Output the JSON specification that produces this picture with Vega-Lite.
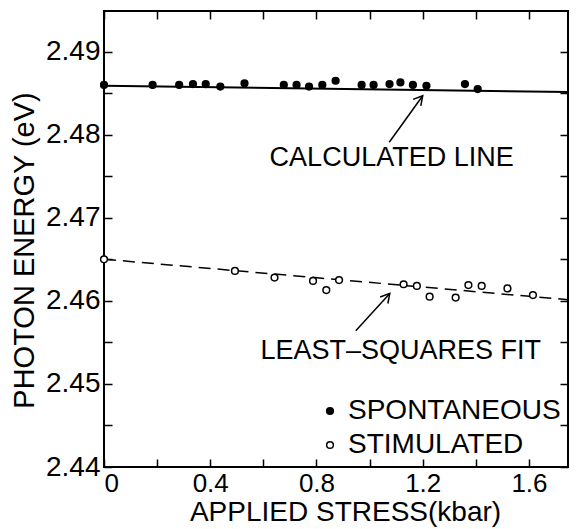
{
  "$schema": "https://vega.github.io/schema/vega-lite/v6.json",
  "width": 464,
  "height": 456,
  "autosize": "none",
  "padding": {"left": 104, "top": 11, "right": 15, "bottom": 62},
  "background": "white",
  "config": {
    "view": {"stroke": "black", "strokeWidth": 2},
    "font": "Liberation Sans",
    "axis": {"grid": false, "domain": false, "tickColor": "black", "tickWidth": 1.5, "labelColor": "black", "titleColor": "black"}
  },
  "datasets": {
    "points": [
      {"series": "SPONTANEOUS", "x": 0.0, "y": 2.4860},
      {"series": "SPONTANEOUS", "x": 0.183, "y": 2.4860},
      {"series": "SPONTANEOUS", "x": 0.283, "y": 2.4860},
      {"series": "SPONTANEOUS", "x": 0.335, "y": 2.4861},
      {"series": "SPONTANEOUS", "x": 0.383, "y": 2.4861},
      {"series": "SPONTANEOUS", "x": 0.438, "y": 2.4858},
      {"series": "SPONTANEOUS", "x": 0.529, "y": 2.4862},
      {"series": "SPONTANEOUS", "x": 0.677, "y": 2.4860},
      {"series": "SPONTANEOUS", "x": 0.725, "y": 2.4860},
      {"series": "SPONTANEOUS", "x": 0.772, "y": 2.4858},
      {"series": "SPONTANEOUS", "x": 0.822, "y": 2.4860},
      {"series": "SPONTANEOUS", "x": 0.872, "y": 2.4865},
      {"series": "SPONTANEOUS", "x": 0.970, "y": 2.4860},
      {"series": "SPONTANEOUS", "x": 1.015, "y": 2.4860},
      {"series": "SPONTANEOUS", "x": 1.075, "y": 2.4861},
      {"series": "SPONTANEOUS", "x": 1.116, "y": 2.4863},
      {"series": "SPONTANEOUS", "x": 1.163, "y": 2.4860},
      {"series": "SPONTANEOUS", "x": 1.214, "y": 2.4859},
      {"series": "SPONTANEOUS", "x": 1.359, "y": 2.4861},
      {"series": "SPONTANEOUS", "x": 1.407, "y": 2.4855},
      {"series": "STIMULATED", "x": 0.0, "y": 2.4650},
      {"series": "STIMULATED", "x": 0.493, "y": 2.4636},
      {"series": "STIMULATED", "x": 0.642, "y": 2.4628},
      {"series": "STIMULATED", "x": 0.787, "y": 2.4624},
      {"series": "STIMULATED", "x": 0.837, "y": 2.4613},
      {"series": "STIMULATED", "x": 0.885, "y": 2.4625},
      {"series": "STIMULATED", "x": 1.128, "y": 2.4620},
      {"series": "STIMULATED", "x": 1.178, "y": 2.4618},
      {"series": "STIMULATED", "x": 1.226, "y": 2.4605},
      {"series": "STIMULATED", "x": 1.324, "y": 2.4604},
      {"series": "STIMULATED", "x": 1.372, "y": 2.4619},
      {"series": "STIMULATED", "x": 1.422, "y": 2.4618},
      {"series": "STIMULATED", "x": 1.519, "y": 2.4615},
      {"series": "STIMULATED", "x": 1.615, "y": 2.4607}
    ],
    "calcline": [
      {"x": 0.0, "y": 2.48590},
      {"x": 1.747, "y": 2.48515}
    ],
    "fitline": [
      {"x": 0.0, "y": 2.46502},
      {"x": 1.747, "y": 2.46014}
    ],
    "labels": [
      {"x": 1.083, "y": 2.47719, "text": "CALCULATED LINE"},
      {"x": 1.117, "y": 2.45394, "text": "LEAST–SQUARES FIT"}
    ],
    "arrows": [
      {"x": 1.074, "y": 2.4791, "x2": 1.200, "y2": 2.4847},
      {"x": 0.948, "y": 2.4564, "x2": 1.076, "y2": 2.4609}
    ]
  },
  "layer": [
    {
      "encoding": {
        "x": {
          "field": "x", "type": "quantitative",
          "scale": {"domain": [0, 1.747], "nice": false, "zero": false},
          "axis": {
            "orient": "bottom",
            "offset": -8,
            "values": [0, 0.2, 0.4, 0.6, 0.8, 1.0, 1.2, 1.4, 1.6],
            "format": ".1~f",
            "labelExpr": "abs(datum.value*2.5 - round(datum.value*2.5)) < 0.01 ? datum.label : ''",
            "tickSize": 8,
            "labelFontSize": 26,
            "labelPadding": 3,
            "labelOverlap": false,
            "labelBound": false,
            "title": "APPLIED STRESS(kbar)",
            "titleFontSize": 28,
            "titleFontWeight": "normal",
            "titlePadding": 2,
            "titleX": 241
          }
        },
        "y": {
          "field": "y", "type": "quantitative",
          "scale": {"domain": [2.44, 2.4949], "nice": false, "zero": false},
          "axis": {
            "orient": "left",
            "offset": -8,
            "values": [2.44, 2.445, 2.45, 2.455, 2.46, 2.465, 2.47, 2.475, 2.48, 2.485, 2.49],
            "labelExpr": "abs(datum.value*100 - round(datum.value*100)) < 0.01 ? format(datum.value, '.2f') : ''",
            "tickSize": 8,
            "labelFontSize": 28,
            "labelPadding": 4,
            "labelOverlap": false,
            "labelBound": false,
            "title": "PHOTON ENERGY (eV)",
            "titleFontSize": 29,
            "titleFontWeight": "normal",
            "titlePadding": 6,
            "titleY": 239
          }
        }
      },
      "layer": [
        {
          "data": {"name": "calcline"},
          "mark": {"type": "line", "color": "black", "strokeWidth": 2}
        },
        {
          "data": {"name": "fitline"},
          "mark": {"type": "line", "color": "black", "strokeWidth": 1.5, "strokeDash": [12, 7]}
        },
        {
          "data": {"name": "arrows"},
          "mark": {"type": "rule", "color": "black", "strokeWidth": 1.5},
          "encoding": {
            "x2": {"field": "x2"},
            "y2": {"field": "y2"}
          }
        },
        {
          "data": {"name": "arrows"},
          "mark": {"type": "point", "shape": "M-0.45,0.8L0,0L0.45,0.8", "filled": false, "stroke": "black", "strokeWidth": 1.5, "size": 500, "angle": 40, "opacity": 1},
          "encoding": {
            "x": {"field": "x2", "type": "quantitative"},
            "y": {"field": "y2", "type": "quantitative"}
          }
        },
        {
          "data": {"name": "labels"},
          "mark": {"type": "text", "fontSize": 27, "color": "black", "align": "center", "baseline": "middle"},
          "encoding": {"text": {"field": "text"}}
        },
        {
          "data": {"name": "points"},
          "mark": {"type": "point", "shape": "circle", "filled": true, "stroke": "black", "strokeWidth": 1.5, "size": 45, "opacity": 1},
          "encoding": {
            "fill": {
              "field": "series", "type": "nominal",
              "scale": {"domain": ["SPONTANEOUS", "STIMULATED"], "range": ["black", "white"]},
              "legend": {
                "orient": "none",
                "legendX": 212,
                "legendY": 386,
                "title": null,
                "labelFont": "Liberation Sans",
                "labelFontSize": 28,
                "labelColor": "black",
                "labelOffset": 4,
                "labelLimit": 0,
                "symbolType": "circle",
                "symbolSize": 45,
                "symbolStrokeColor": "black",
                "symbolStrokeWidth": 1.5,
                "rowPadding": 6
              }
            }
          }
        }
      ]
    },
    {
      "data": {"name": "calcline"},
      "mark": {"type": "point", "opacity": 0},
      "encoding": {
        "x": {
          "field": "x", "type": "quantitative",
          "scale": {"domain": [0, 1.747], "nice": false, "zero": false},
          "axis": {"orient": "top", "offset": -8, "values": [0, 0.2, 0.4, 0.6, 0.8, 1.0, 1.2, 1.4, 1.6], "labels": false, "title": null, "tickSize": 8}
        },
        "y": {
          "field": "y", "type": "quantitative",
          "scale": {"domain": [2.44, 2.4949], "nice": false, "zero": false},
          "axis": {"orient": "right", "offset": -8, "values": [2.44, 2.445, 2.45, 2.455, 2.46, 2.465, 2.47, 2.475, 2.48, 2.485, 2.49], "labels": false, "title": null, "tickSize": 8}
        }
      }
    }
  ],
  "resolve": {"axis": {"x": "independent", "y": "independent"}}
}
